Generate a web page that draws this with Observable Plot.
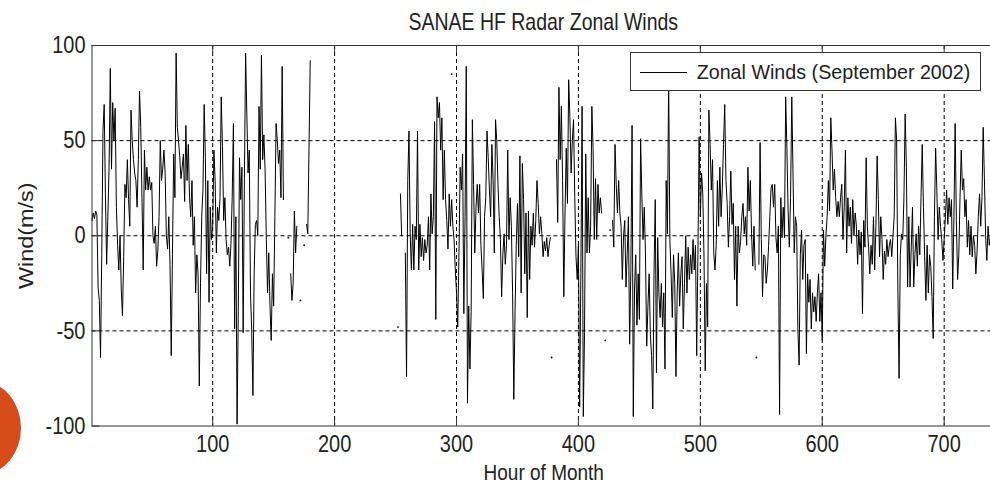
<!DOCTYPE html>
<html>
<head>
<meta charset="utf-8">
<script src="https://cdn.jsdelivr.net/npm/d3@7"></script>
<script src="https://cdn.jsdelivr.net/npm/@observablehq/plot@0.6"></script>
<style>
  html, body { margin: 0; padding: 0; background: #fff; overflow: hidden; }
  #wrap { position: relative; width: 990px; height: 483px; overflow: hidden; background: #fff; }
  #wrap svg { display: block; position: absolute; left: 0; top: 0; }
  #blob { position: absolute; left: -55px; top: 382px; width: 76px; height: 92px; border-radius: 50%; background: #d54b1a; }
  #legend { position: absolute; left: 630px; top: 52px; width: 351px; height: 39px; box-sizing: border-box;
            border: 1px solid #333; background: #fff; }
  #legend .sw { position: absolute; left: 9px; top: 19px; width: 47px; height: 1px; background: #000; }
  #legend .lb { position: absolute; left: 65.7px; top: 9.6px; font-family: "Liberation Sans", Arial, sans-serif;
                font-size: 19.7px; line-height: 19.7px; white-space: nowrap; color: #222; }
</style>
</head>
<body>
<div id="wrap"></div>
<script>
// ---- chart data ----
const titleText = "SANAE HF Radar Zonal Winds";
const xLabel = "Hour of Month";
const yLabel = "Wind(m/s)";
const legendText = "Zonal Winds (September 2002)";

const xTicks = [100, 200, 300, 400, 500, 600, 700];
const yTicks = [-100, -50, 0, 50, 100];
const yGrid = [-50, 0, 50];
const xDomain = [1, 738];
const yDomain = [-100, 100];

// hourly zonal wind, first block starts at hour 1
const startA = 1;
const windA = [
  8, 12, 9, 13, 11, -27, -34, -64, -10, 55,
  69, 22, -15, 10, 36, 88, 35, 70, 50, 67,
  15, -5, -18, 0, -28, -42, -11, 27, 20, 40,
  19, 5, 66, 50, 40, 33, 29, 15, 40, 76,
  57, 20, -18, 45, 24, 36, 24, 31, 24, 28,
  0, -4, 5, -16, -8, 10, 50, 29, 35, 45,
  33, 0, -7, 10, -15, -63, -10, 43, 20, 96,
  57, 50, 41, 30, 36, 43, 18, 58, 29, 48,
  20, 10, 29, -5, 10, -30, -10, -20, -79, -25,
  10, 24, 69, 41, -20, 29, -35, 15, -2, 5,
  45, 29, -9, 15, 8, 20, 73, 47, 8, 20,
  -2, -10, -6, -16, -4, 20, 59, -49, 10, -99,
  -40, 41, 19, 36, -51, 30, 96, 64, 33, 45,
  -30, -50, -84, -20, 6, 8, 0, 68, 35, 95,
  40, 53, 34, -2, -30, -9, -37, -55, -20, -37,
  10, 59, 50, 38, 45, 20, 89, 19, null, null,
  null, null, null, -20, -34, -25, 13, -9, 5, null,
  null, null, null, null, null, null, 6, 1, 46, 92
];

// second block starts at hour 254
const startB = 254;
const windB = [
  22, 0, null, null, -9, -74, 29,
  55, 1, -18, 6, -18, 5, -2, 55, -18, 6,
  -11, -1, -13, -2, -9, -5, 10, -18, 22, 1,
  10, 60, -44, 73, 62, 70, 45, 62, 19, 45,
  19, 8, -7, 22, 5, 19, 5, -2, -18, -30,
  -48, -9, 36, 24, 43, -41, 10, 89, -88, -37,
  -70, -40, 61, 27, -9, 15, 27, 12, 27, -5,
  -18, -33, 10, 20, 55, 41, 24, 10, 48, 29,
  -9, 61, 50, 27, 10, -2, -32, -10, 1, -15,
  -5, 45, -2, 20, 5, -30, -86, -40, -5, 17,
  -11, 42, -30, 38, 19, -20, 12, -43, 13, -23,
  5, -5, 12, -6, 8, 29, 17, 1, 10, 1,
  -11, -3, -8, -1, -11, -5, -1, null, null, null,
  null, 40, 7, 78, 40, 68, 29, -32, 12, 46,
  17, 82, 62, 33, 50, 61, 20, -11, -23, -5,
  -90, -20, 68, -95, -51, 43, -9, 20, -9, 5,
  68, 46, -2, 30, -2, 27, 12, 20, 12, null,
  null, null, null, null, null, null, null, 8, -6, 48,
  27, 12, 29, 12, 5, -23, 0, 8, -27, -10,
  10, -57, -18, 58, -95, -28, -10, -47, -20, -44,
  51, 22, -2, 15, -10, -58, -37, -20, -52, -63,
  -91, -20, 19, -72, -1, -30, -43, -25, -48, -30,
  -70, 29, 1, 82, -2, -20, -43, -10, -25, -74,
  -30, -9, -37, -20, -11, -49, -25, 0, -30, -6,
  -23, -10, -20, -2, -18, -5, -63, -10, 52, 10,
  33, 22, -11, -71, -25, -48, 66, 48, 24, 40,
  -9, -18, -5, 29, 5, 36, 10, 25, 48, 69,
  29, 17, -6, 10, 34, 6, 17, -23, 5, -37,
  5, -9, -3, 10, 17, 1, 10, -5, 36, 13,
  29, 1, -16, 5, -18, null, null, -15, 49, -2,
  -32, -10, -11, -25, -18, -5, 10, 25, 27, 15,
  27, -1, -9, 5, -94, 20, -1, 15, -1, 73,
  46, 13, -6, 20, 73, 33, -9, 10, 5, -49,
  -68, -10, 3, -23, -5, -2, -62, -20, -35, -23,
  -49, -30, -40, -32, -45, -30, -20, -45, -30, -55,
  3, -16, 0, 10, 29, 13, 62, 45, 24, 35,
  20, 10, 18, 10, 20, 27, -2, 15, 45, -9,
  20, 5, 15, -4, 19, 0, 12, 5, -15, 3,
  -10, 2, -41, 8, -6, 41, 5, -6, -20, -5,
  -15, 10, -18, 5, 42, 19, -11, 10, -2, -23,
  -8, -15, -2, -11, -5, -2, -11, 0, 10, 62,
  50, -28, -75, -10, 1, -2, 20, 64, 36, -27,
  10, -27, -6, 15, -27, -10, 1, -16, 5, -10,
  20, 48, 15, -11, -34, -5, -30, -10, -16, -32,
  -54, 10, 46, 24, -2, 15, 5, -2, -13, -2,
  10, 24, 6, 20, 10, 19, -28, 10, 59, 8,
  -23, -10, 20, 45, 24, 30, 10, 19, -6, 8,
  -10, 5, -11, 0, -5, -20, -8, 10, 22, 5,
  20, 57, 30, 0, -13, 5, -5, 0
];

// isolated single readings (no neighbours)
const isoHour = [162, 172, 175, 252, 296, 378, 422, 426, 546];
const isoWind = [-1, -34, -5, -48, 85, -64, -55, 3, -64];

// ---- layout ----
const W = 990, H = 483, mL = 91.5, mR = 0, mT = 45, mB = 57.5;
const plotW = W - mL - mR, plotH = H - mT - mB;
const tickLen = 8;
const frameColor = "#333";
const textColor = "#222";

const rowsA = windA.map((v, i) => ({hour: startA + i, wind: v}));
const rowsB = windB.map((v, i) => ({hour: startB + i, wind: v}));
const isoRows = isoHour.map((h, i) => ({hour: h, wind: isoWind[i]}));

const chart = Plot.plot({
  width: W, height: H,
  marginLeft: mL, marginRight: mR, marginTop: mT, marginBottom: mB,
  style: {fontFamily: "'Liberation Sans', Arial, sans-serif", fontSize: "20px", background: "#fff", color: textColor},
  x: {domain: xDomain, ticks: xTicks, tickSize: 0, tickPadding: 9.2, tickFormat: d => String(d), label: null},
  y: {domain: yDomain, ticks: yTicks, tickSize: 0, tickPadding: 6.5, tickFormat: d => String(d), label: null},
  marks: [
    Plot.ruleY(yGrid, {stroke: "#000", strokeWidth: 1, strokeDasharray: "4,3"}),
    Plot.ruleX(xTicks, {stroke: "#000", strokeWidth: 1, strokeDasharray: "4,3"}),
    Plot.line(rowsA, {x: "hour", y: "wind", stroke: "#000", strokeWidth: 1}),
    Plot.line(rowsB, {x: "hour", y: "wind", stroke: "#000", strokeWidth: 1}),
    Plot.dot(isoRows, {x: "hour", y: "wind", r: 0.9, fill: "#000", stroke: null}),
    Plot.ruleX(xTicks, {stroke: frameColor, insetTop: plotH - tickLen}),
    Plot.ruleX(xTicks, {stroke: frameColor, insetBottom: plotH - tickLen}),
    Plot.ruleY(yTicks, {stroke: frameColor, insetRight: plotW - tickLen}),
    Plot.ruleY(yDomain, {stroke: frameColor}),
    Plot.ruleX([xDomain[0]], {stroke: frameColor}),
    Plot.text([titleText], {text: d => d, frameAnchor: "top", lineAnchor: "middle", dx: 2, dy: -23.2, fontSize: 19.5, fill: textColor}),
    Plot.text([xLabel], {text: d => d, frameAnchor: "bottom", lineAnchor: "middle", dx: 2.5, dy: 46.3, fontSize: 19, fill: textColor}),
    Plot.text([yLabel], {text: d => d, frameAnchor: "left", textAnchor: "middle", lineAnchor: "middle", dx: -65, rotate: -90, fontSize: 19.5, fill: textColor})
  ]
});

// the source graphic is stretched vertically: stretch glyphs the same way
chart.querySelectorAll("text").forEach(t => {
  let tr = t.getAttribute("transform");
  const rotated = !!tr && /rotate\(\s*-?90\s*\)/.test(tr);
  if (!tr) {
    let tx = 0, ty = 0;
    const ax = t.getAttribute("x"), ay = t.getAttribute("y");
    if (ax != null && /^-?[\d.]+$/.test(ax)) { tx = +ax; t.removeAttribute("x"); }
    if (ay != null && /^-?[\d.]+$/.test(ay)) { ty = +ay; t.removeAttribute("y"); }
    tr = `translate(${tx},${ty})`;
  }
  t.setAttribute("transform", tr + (rotated ? " scale(1.2,1)" : " scale(1,1.2)"));
});

const wrap = document.getElementById("wrap");
wrap.appendChild(chart);

const blob = document.createElement("div");
blob.id = "blob";
wrap.appendChild(blob);

const legend = document.createElement("div");
legend.id = "legend";
const sw = document.createElement("div");
sw.className = "sw";
const lb = document.createElement("div");
lb.className = "lb";
lb.textContent = legendText;
legend.appendChild(sw);
legend.appendChild(lb);
wrap.appendChild(legend);
</script>
</body>
</html>
